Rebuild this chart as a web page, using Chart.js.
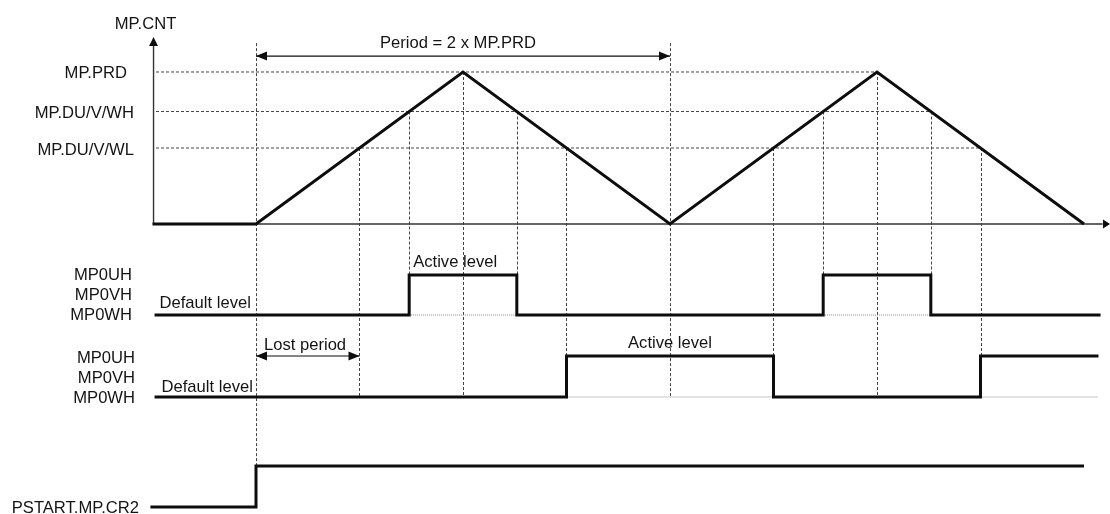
<!DOCTYPE html>
<html><head><meta charset="utf-8">
<script src="https://cdn.jsdelivr.net/npm/chart.js@4"></script>
<style>html,body{margin:0;padding:0;background:#fff;} canvas{display:block;}</style>
</head><body>
<canvas id="c" width="1110" height="514"></canvas>
<script>
// ---- data ----
const counterTimes = [-0.5, 0, 1, 2, 3, 4];
const counterValues = [0, 0, 1, 0, 1, 0];
const compareNames = ['MP.PRD', 'MP.DU/V/WH', 'MP.DU/V/WL'];
const compareValues = [1, 0.74, 0.5];
const compareEnds = [3, 3.26, 3.5];
const upperOutTimes = [-0.49, 0.74, 1.26, 2.74, 3.26, 4.08];
const upperOutLevels = [0, 1, 0, 1, 0, 0];
const lowerOutTimes = [-0.49, 1.5, 2.5, 3.5, 4.07];
const lowerOutLevels = [0, 1, 0, 1, 1];
const startTimes = [-0.51, 0, 4.0];
const startLevels = [0, 1, 1];
const periodSpan = [0, 2];
const lostSpan = [0, 0.5];
const outputNames = ['MP0UH', 'MP0VH', 'MP0WH'];
const startName = 'PSTART.MP.CR2';
const periodLabel = 'Period = 2 x MP.PRD';
const lostLabel = 'Lost period';
const defaultLabel = 'Default level';
const activeLabel = 'Active level';
const axisTitle = 'MP.CNT';

// ---- helpers ----
const pts = (xs, ys) => xs.map((x, i) => ({x, y: ys[i]}));
function pulseBase(times, levels) {
  const out = [];
  for (let i = 0; i < levels.length - 1; i++) {
    if (levels[i] === 1) { out.push({x: times[i], y: 0}, {x: times[i + 1], y: 0}, {x: times[i + 1], y: null}); }
  }
  return out;
}
const AXIS_T = -0.495;
const AXIS_TOP = 1.23;
const INK = '#0d0d0d';
const GUIDE = '#444';

const line = (data, yAxisID, extra) => Object.assign({
  data, yAxisID, xAxisID: 'x', borderColor: INK, borderWidth: 3, pointRadius: 0,
  fill: false, tension: 0, borderCapStyle: 'butt', borderJoinStyle: 'miter', spanGaps: false
}, extra || {});

const datasets = [];
compareValues.forEach((v, i) => datasets.push(line([{x: -0.483, y: v}, {x: compareEnds[i], y: v}], 'yc', {borderWidth: 1, borderColor: GUIDE, borderDash: [3, 2], order: 10})));
datasets.push(line(pulseBase(upperOutTimes, upperOutLevels), 'y1', {borderWidth: 1, borderColor: '#888', borderDash: [1, 1], order: 9}));
datasets.push(line(pulseBase(lowerOutTimes, lowerOutLevels), 'y2', {borderWidth: 1, borderColor: '#888', borderDash: [1, 1], order: 9}));
datasets.push(line([{x: AXIS_T, y: 0}, {x: 4.09, y: 0}], 'yc', {borderWidth: 1.4, borderColor: '#333', order: 5}));
datasets.push(line([{x: AXIS_T, y: 0}, {x: AXIS_T, y: AXIS_TOP - 0.03}], 'yc', {borderWidth: 1.4, borderColor: '#333', order: 5}));
datasets.push(line([{x: periodSpan[0], y: 1.105}, {x: periodSpan[1], y: 1.105}], 'yc', {borderWidth: 1.2, borderColor: INK, order: 5}));
datasets.push(line([{x: lostSpan[0], y: 1}, {x: lostSpan[1], y: 1}], 'y2', {borderWidth: 1.2, borderColor: INK, order: 5}));
datasets.push(line(pts(counterTimes, counterValues), 'yc', {order: 1}));
datasets.push(line(pts(upperOutTimes, upperOutLevels), 'y1', {stepped: 'before', order: 1}));
datasets.push(line(pts(lowerOutTimes, lowerOutLevels), 'y2', {stepped: 'before', order: 1}));
datasets.push(line(pts(startTimes, startLevels), 'y3', {stepped: 'before', order: 1}));

function arrow(ctx, x, y, dir, len, half) {
  ctx.beginPath();
  if (dir === 'left' || dir === 'right') {
    const s = dir === 'right' ? -1 : 1;
    ctx.moveTo(x, y); ctx.lineTo(x + s * len, y - half); ctx.lineTo(x + s * len, y + half);
  } else {
    const s = dir === 'up' ? 1 : -1;
    ctx.moveTo(x, y); ctx.lineTo(x - half, y + s * len); ctx.lineTo(x + half, y + s * len);
  }
  ctx.closePath(); ctx.fill();
}

const diagramPlugin = {
  id: 'diagram',
  beforeDatasetsDraw(chart) {
    const {ctx, scales: s} = chart;
    const X = v => s.x.getPixelForValue(v);
    const [prd, wh, wl] = compareValues;
    const guides = [
      [periodSpan[0], s.yc.getPixelForValue(1.19), s.y3.getPixelForValue(1)],
      [periodSpan[1], s.yc.getPixelForValue(1.19), s.y2.getPixelForValue(0)],
      [counterTimes[2], s.yc.getPixelForValue(prd), s.y2.getPixelForValue(0)],
      [counterTimes[4], s.yc.getPixelForValue(prd), s.y2.getPixelForValue(0)],
    ];
    [1, 2, 3, 4].forEach(i => guides.push([upperOutTimes[i], s.yc.getPixelForValue(wh), s.y1.getPixelForValue(1)]));
    guides.push([lostSpan[1], s.yc.getPixelForValue(wl), s.y2.getPixelForValue(0)]);
    [1, 2, 3].forEach(i => guides.push([lowerOutTimes[i], s.yc.getPixelForValue(wl), s.y2.getPixelForValue(1)]));
    ctx.save();
    ctx.strokeStyle = GUIDE; ctx.lineWidth = 1; ctx.setLineDash([3, 2]);
    guides.forEach(([t, y0, y1]) => {
      const x = Math.round(X(t)) + 0.5;
      ctx.beginPath(); ctx.moveTo(x, y0); ctx.lineTo(x, y1); ctx.stroke();
    });
    ctx.restore();
  },
  afterDatasetsDraw(chart) {
    const {ctx, scales: s} = chart;
    const X = v => s.x.getPixelForValue(v);
    const Yc = v => s.yc.getPixelForValue(v);
    const Y1 = v => s.y1.getPixelForValue(v);
    const Y2 = v => s.y2.getPixelForValue(v);
    const Y3 = v => s.y3.getPixelForValue(v);
    ctx.save();
    ctx.fillStyle = INK;
    // axis arrows
    arrow(ctx, X(AXIS_T), Yc(AXIS_TOP), 'up', 9, 4.5);
    arrow(ctx, chart.chartArea.right, Yc(0), 'right', 7, 4.5);
    // dimension arrows
    arrow(ctx, X(periodSpan[0]), Yc(1.105), 'left', 11, 4.5);
    arrow(ctx, X(periodSpan[1]), Yc(1.105), 'right', 11, 4.5);
    arrow(ctx, X(lostSpan[0]), Y2(1), 'left', 11, 4.5);
    arrow(ctx, X(lostSpan[1]), Y2(1), 'right', 11, 4.5);
    // text
    ctx.fillStyle = '#141414';
    ctx.font = '16.6px "Liberation Sans", Arial, sans-serif';
    ctx.textBaseline = 'alphabetic';
    const txt = (t, x, y, align) => { ctx.textAlign = align; ctx.fillText(t, x, y); };
    txt(axisTitle, X(AXIS_T) - 8, Yc(AXIS_TOP) - 8, 'center');
    txt(periodLabel, X((periodSpan[0] + periodSpan[1]) / 2) - 5, Yc(1.105) - 8, 'center');
    const rights = [127, 134, 134];
    compareNames.forEach((n, i) => txt(n, rights[i], Yc(compareValues[i]) + (i === 2 ? 7 : 6), 'right'));
    [-35, -15, 5].forEach((d, i) => txt(outputNames[i], 132, Y1(0) + d, 'right'));
    [-34, -14, 6].forEach((d, i) => txt(outputNames[i], 135, Y2(0) + d, 'right'));
    txt(defaultLabel, X(AXIS_T) + 6, Y1(0) - 7, 'left');
    txt(defaultLabel, X(AXIS_T) + 8, Y2(0) - 5, 'left');
    txt(activeLabel, X(upperOutTimes[1]) + 4, Y1(1) - 8, 'left');
    txt(activeLabel, X(periodSpan[1]), Y2(1) - 8, 'center');
    txt(lostLabel, X(lostSpan[0]) + 8, Y2(1) - 6, 'left');
    txt(startName, 139, Y3(0) + 6, 'right');
    ctx.restore();
  }
};

new Chart(document.getElementById('c'), {
  type: 'line',
  data: {datasets},
  options: {
    responsive: false, animation: false, events: [],
    layout: {padding: 0},
    plugins: {legend: {display: false}, tooltip: {enabled: false}},
    scales: {
      x: {type: 'linear', display: false, min: -1.2367, max: 4.1256},
      yc: {type: 'linear', display: false, min: -1.908, max: 1.4737},
      y1: {type: 'linear', display: false, min: -4.975, max: 7.875},
      y2: {type: 'linear', display: false, min: -2.854, max: 9.683},
      y3: {type: 'linear', display: false, min: -0.171, max: 12.366}
    }
  },
  plugins: [diagramPlugin]
});
</script>
</body></html>
